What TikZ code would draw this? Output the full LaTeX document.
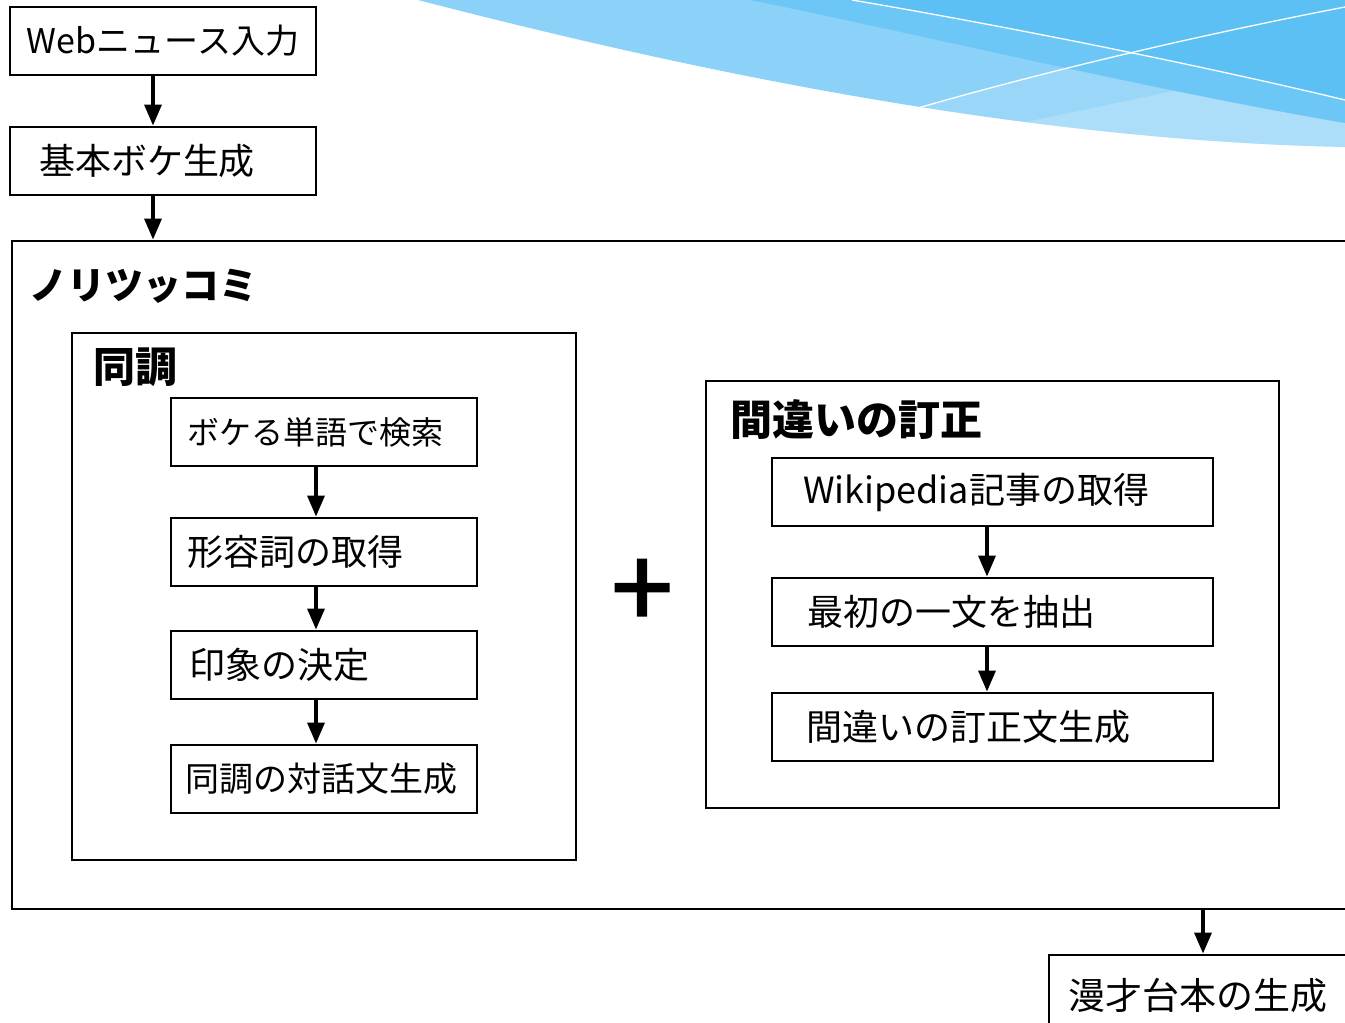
\documentclass[tikz,border=0pt]{standalone}
\usepackage{fontspec}
\newfontfamily\jp{Noto Sans CJK JP}
\newfontfamily\plusfont{Noto Sans CJK JP}[FakeBold=2]
\usetikzlibrary{arrows.meta}
\definecolor{waveBase}{HTML}{8BD1F8}
\definecolor{waveMid}{HTML}{6CC7F6}
\definecolor{waveDeep}{HTML}{5CC0F5}
\newcommand\lft[2]{\makebox[#1][l]{#2}}
\newcommand\fs[1]{\fontsize{#1}{#1}\selectfont}
\begin{document}
\begin{tikzpicture}[x=1pt,y=-1pt,
  frame/.style={draw=black, line width=2.9pt, rectangle, inner sep=0pt},
  stepbox/.style={frame, minimum height=68pt, inner ysep=0pt, font=\jp\fs{34pt}},
  title/.style={anchor=west, inner sep=0pt, font=\jp\bfseries\fs{42pt}},
  arr/.style={line width=3.4pt, -{Triangle[width=17pt,length=21pt]}},
]
\useasboundingbox (0,0) rectangle (1345,1023);
\begin{scope}
\clip (0,0) rectangle (1345,1023);

% decorative waves in the upper right corner
\fill[waveBase] (418,0) .. controls (650,60) and (1000,140) .. (1345,147) -- (1345,0) -- cycle;
\begin{scope}
  \clip (418,0) .. controls (650,60) and (1000,140) .. (1345,147) -- (1345,0) -- cycle;
  \fill[white, opacity=0.12] (918,108) .. controls (1050,70) and (1200,35) .. (1345,7) -- (1345,170) -- (900,170) -- cycle;
  \fill[white, opacity=0.2] (1021,123) -- (1345,55) -- (1345,170) -- (1000,170) -- cycle;
\end{scope}
\fill[waveMid] (750,0) .. controls (900,30) and (1150,90) .. (1345,123) -- (1345,0) -- cycle;
\fill[waveDeep] (852,0) .. controls (1000,25) and (1200,65) .. (1345,100) -- (1345,0) -- cycle;
\draw[white, line width=1.3pt] (852,0) .. controls (1000,25) and (1200,65) .. (1345,100);
\draw[white, line width=1.3pt] (918,108) .. controls (1050,70) and (1200,35) .. (1345,7);

% top steps
\node[stepbox, inner xsep=17pt] (web) at (163,41) {\lft{272pt}{Webニュース入力}};
\node[stepbox, inner xsep=29pt, font=\jp\fs{36pt}] (boke) at (163,161) {\lft{248pt}{基本ボケ生成}};

% outer container
\node[frame, minimum width=1350pt, minimum height=668pt] (nori) at (687,575) {};
\node[title, font=\jp\bfseries\fs{38pt}] (noriT) at (29,286) {ノリツッコミ};

% sympathy block
\node[frame, minimum width=504pt, minimum height=527pt] (dou) at (324,596.5) {};
\node[title] (douT) at (93,367) {同調};
\node[stepbox, inner xsep=16pt, font=\jp\fs{32pt}] (d1) at (324,432) {\lft{274pt}{ボケる単語で検索}};
\node[stepbox, inner xsep=16pt, font=\jp\fs{36pt}] (d2) at (324,552) {\lft{274pt}{形容詞の取得}};
\node[stepbox, inner xsep=18pt, font=\jp\fs{36pt}] (d3) at (324,665) {\lft{270pt}{印象の決定}};
\node[stepbox, inner xsep=14pt] (d4) at (324,779) {\lft{278pt}{同調の対話文生成}};

% plus sign between the blocks
\node[inner sep=0pt, font=\plusfont\fs{110pt}] (plus) at (642,594) {+};

% correction block
\node[frame, minimum width=573pt, minimum height=427pt] (mach) at (992.5,594.5) {};
\node[title] (machT) at (730,420) {間違いの訂正};
\node[stepbox, inner xsep=31pt, font=\jp\fs{36pt}] (m1) at (992.5,492) {\lft{379pt}{Wikipedia記事の取得}};
\node[stepbox, inner xsep=35pt, font=\jp\fs{36pt}] (m2) at (992.5,612) {\lft{371pt}{最初の一文を抽出}};
\node[stepbox, inner xsep=34pt, font=\jp\fs{36pt}] (m3) at (992.5,727) {\lft{373pt}{間違いの訂正文生成}};

% final step
\node[stepbox, minimum height=80pt, inner xsep=19pt, font=\jp\fs{37pt}] (final) at (1204.5,995) {\lft{273pt}{漫才台本の生成}};

% connectors
\draw[arr] ([xshift=-10pt]web.south) -- ([xshift=-10pt]boke.north);
\draw[arr] ([xshift=-10pt]boke.south) -- ([xshift=-10pt]boke.south |- nori.north);
\draw[arr] ([xshift=-8pt]d1.south) -- ([xshift=-8pt]d2.north);
\draw[arr] ([xshift=-8pt]d2.south) -- ([xshift=-8pt]d3.north);
\draw[arr] ([xshift=-8pt]d3.south) -- ([xshift=-8pt]d4.north);
\draw[arr] ([xshift=-5.5pt]m1.south) -- ([xshift=-5.5pt]m2.north);
\draw[arr] ([xshift=-5.5pt]m2.south) -- ([xshift=-5.5pt]m3.north);
\draw[arr] ([xshift=-1.5pt]final.north |- nori.south) -- ([xshift=-1.5pt]final.north);
\end{scope}
\end{tikzpicture}
\end{document}
